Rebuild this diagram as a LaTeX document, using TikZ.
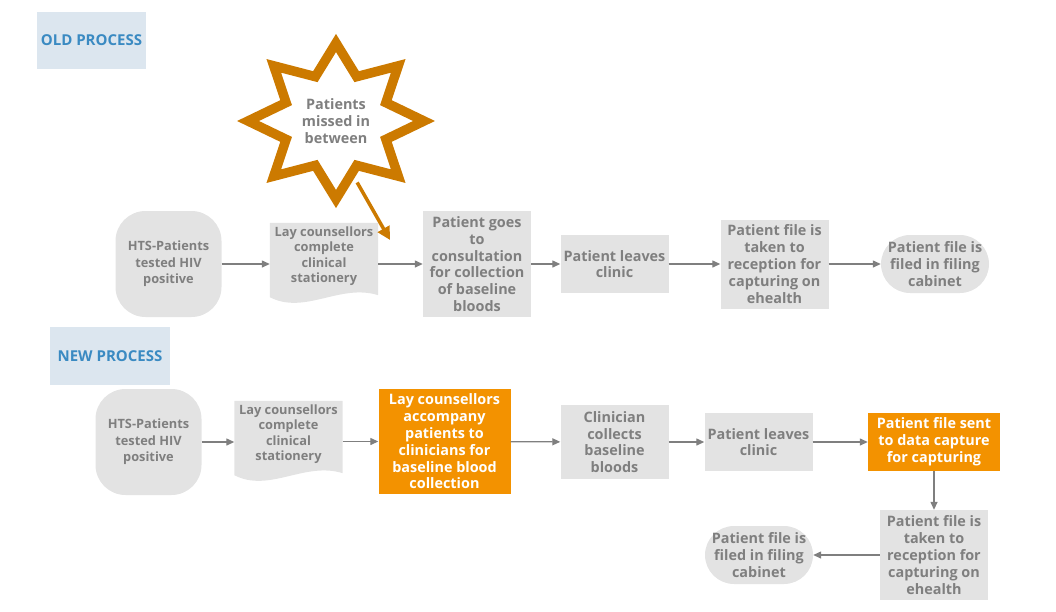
\documentclass[tikz,border=0pt]{standalone}
\usepackage{fontspec}
\setmainfont{Open Sans}
\usetikzlibrary{arrows.meta,backgrounds}

\definecolor{boxgray}{HTML}{E3E3E3}
\definecolor{txtgray}{HTML}{7F7F7F}
\definecolor{hiorange}{HTML}{F39200}
\definecolor{staror}{HTML}{CC7A00}
\definecolor{headbg}{HTML}{DCE6EF}
\definecolor{headblue}{HTML}{3A8AC2}

\begin{document}
\begin{tikzpicture}[x=1pt,y=-1pt]
\tikzstyle{every node}+=[inner sep=0pt, text=txtgray, align=center, font=\bfseries\fontsize{14.4}{16.8}\selectfont]
\tikzstyle{headbox}=[fill=headbg, text=headblue, font=\bfseries\fontsize{15}{17}\selectfont]
\tikzstyle{procbox}=[fill=boxgray, minimum width=108pt]
\tikzstyle{endbox}=[fill=boxgray, rounded corners=29pt, minimum width=108pt, minimum height=58pt]
\tikzstyle{startbox}=[fill=boxgray, rounded corners=30pt, minimum width=106pt, minimum height=106pt, font=\bfseries\fontsize{12.8}{16.5}\selectfont]
\tikzstyle{docbox}=[minimum width=108pt, minimum height=66pt, font=\bfseries\fontsize{12.8}{15.4}\selectfont]
\tikzstyle{hibox}=[fill=hiorange, text=white, minimum width=132pt]
\tikzstyle{flow}=[draw=txtgray, line width=1.3pt, -{Triangle[length=8pt,width=7pt]}]
\useasboundingbox (0,0) rectangle (1056,611);

\node[headbox, minimum width=109pt, minimum height=57pt] (old) at (91.5,40.5) {OLD PROCESS};
\node[headbox, minimum width=120pt, minimum height=58pt] (new) at (110,356) {NEW PROCESS};

\node[startbox] (hts) at (168.5,264) {HTS-Patients\\tested HIV\\positive};
\node[docbox] (lay) at (324,256) {Lay counsellors\\complete\\clinical\\stationery};
\node[procbox, minimum height=106pt] (consult) at (477,264) {Patient goes\\to\\consultation\\for collection\\of baseline\\bloods};
\node[procbox, minimum height=58pt] (leaves) at (614.5,264) {Patient leaves\\clinic};
\node[procbox, minimum height=89pt] (recep) at (774.5,264) {Patient file is\\taken to\\reception for\\capturing on\\ehealth};
\node[endbox] (filed) at (935,264) {Patient file is\\filed in filing\\cabinet};

\node (miss) at (336,121) {Patients\\missed in\\between};
\coordinate (gap) at (390,240);

\node[startbox] (hts2) at (148.5,442) {HTS-Patients\\tested HIV\\positive};
\node[docbox] (lay2) at (288.5,434) {Lay counsellors\\complete\\clinical\\stationery};
\node[hibox, minimum height=105pt] (accomp) at (444.5,441.5) {Lay counsellors\\accompany\\patients to\\clinicians for\\baseline blood\\collection};
\node[procbox, minimum height=74pt] (clin) at (614.5,442) {Clinician\\collects\\baseline\\bloods};
\node[procbox, minimum height=58pt] (leaves2) at (758.5,442) {Patient leaves\\clinic};
\node[hibox, minimum height=58pt] (sent) at (934,442) {Patient file sent\\to data capture\\for capturing};
\node[procbox, minimum height=90pt] (recep2) at (934,555) {Patient file is\\taken to\\reception for\\capturing on\\ehealth};
\node[endbox] (filed2) at (759,555) {Patient file is\\filed in filing\\cabinet};

\begin{scope}[on background layer]
\draw[staror, line width=9.5pt, line join=miter, fill=white] ([shift={(0:88 and 78)}]miss.center)
  \foreach \a in {0,45,...,315} { -- ([shift={(\a+22.5:54 and 48)}]miss.center) -- ([shift={(\a+45:88 and 78)}]miss.center) } -- cycle;
\fill[boxgray] (lay.north west) -- (lay.north east) -- ([yshift=-6pt]lay.south east) .. controls +(-38,-12) and +(35,18) .. ([yshift=-8pt]lay.south west) -- cycle;
\fill[boxgray] (lay2.north west) -- (lay2.north east) -- ([yshift=-6pt]lay2.south east) .. controls +(-38,-12) and +(35,18) .. ([yshift=-8pt]lay2.south west) -- cycle;
\end{scope}

\draw[flow] (hts) -- (hts -| lay.west);
\draw[flow] (lay.east |- consult) -- (consult);
\draw[flow] (consult) -- (leaves);
\draw[flow] (leaves) -- (recep);
\draw[flow] (recep) -- (filed);
\draw[staror, line width=3.5pt, -{Triangle[length=13pt,width=13pt]}] ([shift={(71:65)}]miss.center) -- (gap);

\draw[flow] (hts2) -- (hts2 -| lay2.west);
\draw[flow] (lay2.east |- accomp) -- (accomp);
\draw[flow] (accomp) -- (clin);
\draw[flow] (clin) -- (leaves2);
\draw[flow] (leaves2) -- (sent);
\draw[flow] (sent) -- (recep2);
\draw[flow] (recep2) -- (filed2);

\end{tikzpicture}
\end{document}
